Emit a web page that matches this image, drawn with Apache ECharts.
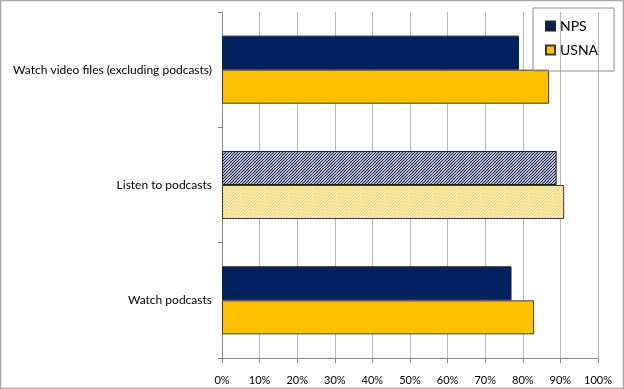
<!DOCTYPE html>
<html><head><meta charset="utf-8">
<script src="https://cdn.jsdelivr.net/npm/echarts@6/dist/echarts.min.js"></script>
<style>html,body{margin:0;padding:0;background:#fff}#c{width:624px;height:389px}</style>
</head><body><div id="c"></div>
<script>
var categories = ['Watch podcasts', 'Listen to podcasts', 'Watch video files (excluding podcasts)'];
var npsValues = [77, 89, 79];
var usnaValues = [83, 91, 87];
var seriesNames = ['NPS', 'USNA'];
var hatchedCategory = 'Listen to podcasts';

function stripes(bg, fg, period, lw) {
  var s = period * 4;
  var c = document.createElement('canvas');
  c.width = s; c.height = s;
  var g = c.getContext('2d');
  g.fillStyle = bg; g.fillRect(0, 0, s, s);
  g.strokeStyle = fg; g.lineWidth = lw;
  for (var i = -s; i <= 2 * s; i += period) {
    g.beginPath(); g.moveTo(i, s); g.lineTo(i + s, 0); g.stroke();
  }
  return {image: c, repeat: 'repeat'};
}
var npsColor = '#002060', usnaColor = '#FFC000';
var npsHatch = stripes('#ffffff', '#102050', 3, 1.2);
var usnaHatch = stripes('#fffae0', '#f0d060', 3, 1.2);

function build(vals, hatch) {
  return vals.map(function (v, i) {
    var d = {value: v};
    if (categories[i] === hatchedCategory) d.itemStyle = {color: hatch};
    return d;
  });
}

var chart = echarts.init(document.getElementById('c'), null, {renderer: 'canvas'});
var font = 'Lato, "Open Sans", sans-serif';
chart.setOption({
  animation: false,
  backgroundColor: '#fff',
  graphic: [{type: 'rect', shape: {x: 0.5, y: 0.5, width: 623, height: 388}, style: {fill: 'none', stroke: '#a6a6a6', lineWidth: 1.5}, z: 100}],
  grid: {left: 222, right: 26, top: 12, bottom: 31, containLabel: false},
  legend: {
    orient: 'vertical', left: 533, top: 8, data: seriesNames,
    borderColor: '#8c8c8c', borderWidth: 1, padding: [11, 16, 14, 12],
    itemWidth: 9, itemHeight: 9, itemGap: 10, icon: 'rect',
    textStyle: {fontFamily: font, fontSize: 14, color: '#000'}
  },
  xAxis: {
    type: 'value', min: 0, max: 100, interval: 10,
    axisLine: {show: true, lineStyle: {color: '#888'}},
    axisTick: {show: true, length: 5, lineStyle: {color: '#888'}},
    splitLine: {show: true, lineStyle: {color: '#b8b8b8'}},
    axisLabel: {formatter: '{value}%', fontFamily: font, fontSize: 11, color: '#000', margin: 17}
  },
  yAxis: {
    type: 'category', data: categories,
    axisLine: {show: true, lineStyle: {color: '#888'}},
    axisTick: {show: true, length: 4, lineStyle: {color: '#888'}},
    axisLabel: {fontFamily: font, fontSize: 12, color: '#000', margin: 10}
  },
  series: [
    {name: 'NPS', type: 'bar', data: build(npsValues, npsHatch), barCategoryGap: '41%', barGap: '0%',
     itemStyle: {color: npsColor, borderColor: '#222', borderWidth: 1}},
    {name: 'USNA', type: 'bar', data: build(usnaValues, usnaHatch), barCategoryGap: '41%', barGap: '0%',
     itemStyle: {color: usnaColor, borderColor: '#3a3a3a', borderWidth: 1}}
  ]
});
</script></body></html>
